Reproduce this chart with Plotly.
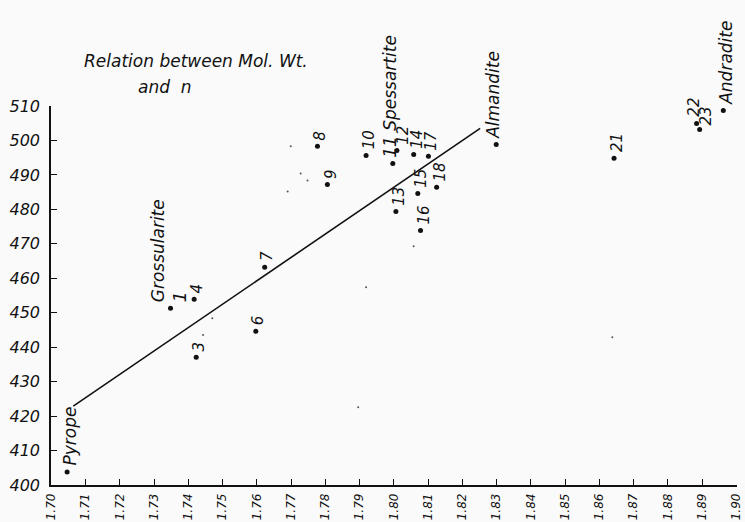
import plotly.graph_objects as go

# ---- data ----
refr_index = [1.7046, 1.7348, 1.7423, 1.7417, 1.7597, 1.7623, 1.7777, 1.7806,
              1.7919, 1.7997, 1.8009, 1.8006, 1.8058, 1.8070, 1.8078, 1.8101,
              1.8125, 1.8299, 1.8643, 1.8884, 1.8893, 1.8962]
mol_wt = [403.8, 451.3, 437.1, 453.9, 444.6, 463.2, 498.3, 487.2,
          495.6, 493.3, 497.1, 479.4, 495.9, 484.6, 473.9, 495.4,
          486.4, 498.8, 494.8, 504.9, 503.2, 508.7]
point_labels = ["Pyrope", "Grossularite<br>1", "3", "4", "6", "7", "8", "9",
                "10", "11 Spessartite", "12", "13", "14", "15", "16", "17",
                "18", "Almandite", "21", "22", "23", "Andradite"]

# faint unlabeled specks in the drawing
speck_n = [1.7443, 1.7470, 1.7699, 1.7728, 1.7748, 1.7690, 1.8058, 1.7919, 1.7896, 1.8638]
speck_mw = [443.5, 448.4, 498.3, 490.4, 488.4, 485.2, 469.3, 457.4, 422.6, 442.9]

# drawn relation line (end points)
line_n = [1.7064, 1.8252]
line_mw = [422.9, 503.5]

x_ticks = [round(1.70 + 0.01 * i, 2) for i in range(21)]
x_ticktext = ["%.2f" % v for v in x_ticks]
y_ticks = list(range(400, 511, 10))

title_line1 = "Relation between Mol. Wt."
title_line2 = "and  n"

FONT = "DejaVu Sans, sans-serif"
INK = "#111111"

fig = go.Figure()
fig.add_trace(go.Scatter(x=line_n, y=line_mw, mode="lines",
                         line=dict(color=INK, width=1.6), hoverinfo="skip"))
fig.add_trace(go.Scatter(x=refr_index, y=mol_wt, mode="markers",
                         marker=dict(color=INK, size=5)))
fig.add_trace(go.Scatter(x=speck_n, y=speck_mw, mode="markers",
                         marker=dict(color="#555555", size=2)))

# label offsets (pixels) per point
xshift = {0: 3, 1: -2, 9: -3, 10: 6, 17: -4, 19: -3, 20: 6}
yshift = {19: 5, 20: 2}
names = {0, 1, 9, 17, 21}
for i, (xv, yv, t) in enumerate(zip(refr_index, mol_wt, point_labels)):
    fig.add_annotation(x=xv, y=yv, text=t, showarrow=False, textangle=-90,
                       xanchor="center", yanchor="bottom", align="left",
                       xshift=xshift.get(i, 3), yshift=yshift.get(i, 4),
                       font=dict(family=FONT, size=17 if i in names else 15,
                                 color=INK, style="italic"))

fig.add_annotation(xref="paper", yref="paper", x=0.045, y=1.15,
                   text=title_line1, showarrow=False, xanchor="left", yanchor="top",
                   font=dict(family=FONT, size=17, color=INK, style="italic"))
fig.add_annotation(xref="paper", yref="paper", x=0.124, y=1.082,
                   text=title_line2, showarrow=False, xanchor="left", yanchor="top",
                   font=dict(family=FONT, size=17, color=INK, style="italic"))

fig.update_layout(
    width=745, height=522,
    margin=dict(l=51, r=8, t=106, b=37),
    paper_bgcolor="#fafafa", plot_bgcolor="#fafafa",
    showlegend=False,
    xaxis=dict(range=[1.6999, 1.9002], tickmode="array", tickvals=x_ticks,
               ticktext=x_ticktext, tickangle=-90, ticks="inside", ticklen=6,
               tickcolor=INK, showline=True, linecolor=INK, linewidth=1.5,
               showgrid=False, zeroline=False, ticklabeloverflow="allow",
               automargin=False, ticklabelstandoff=2,
               tickfont=dict(family=FONT, size=12, color=INK, style="italic")),
    yaxis=dict(range=[400, 510], tickmode="array", tickvals=y_ticks,
               ticks="inside", ticklen=6, tickcolor=INK, showline=True,
               linecolor=INK, linewidth=1.5, showgrid=False, zeroline=False,
               ticklabelstandoff=6, automargin=False,
               tickfont=dict(family=FONT, size=16, color=INK, style="italic")),
)

fig.write_html("out.html")
